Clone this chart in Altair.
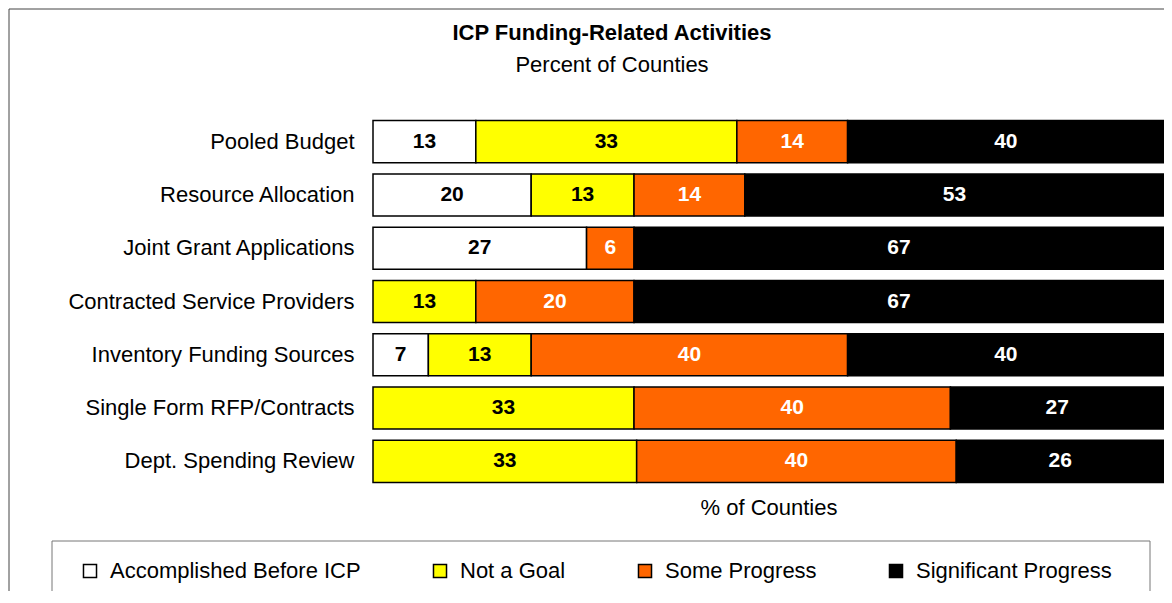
import altair as alt
import pandas as pd

categories = [
    "Pooled Budget",
    "Resource Allocation",
    "Joint Grant Applications",
    "Contracted Service Providers",
    "Inventory Funding Sources",
    "Single Form RFP/Contracts",
    "Dept. Spending Review",
]
series = ["Accomplished Before ICP", "Not a Goal", "Some Progress", "Significant Progress"]
accomplished = [13, 20, 27, 0, 7, 0, 0]
not_goal = [33, 13, 0, 13, 13, 33, 33]
some_progress = [14, 14, 6, 20, 40, 40, 40]
significant = [40, 53, 67, 67, 40, 27, 26]
colors = ["#FFFFFF", "#FFFF00", "#FF6600", "#000000"]
title_text = ["ICP Funding-Related Activities"]
subtitle_text = ["Percent of Counties"]
x_title = "% of Counties"

rows = []
for i, c in enumerate(categories):
    for j, (s, vals) in enumerate(zip(series, [accomplished, not_goal, some_progress, significant])):
        v = vals[i]
        if v > 0:
            rows.append({"cat": c, "series": s, "order": j, "value": v})
df = pd.DataFrame(rows)

FONT = "Liberation Sans"
W, H = 791, 373
PL, PT = 365, 107
PR = 1156 - PL - W
PB = 583 - PT - H

base = alt.Chart(df)

y_enc = alt.Y(
    "cat:N",
    sort=categories,
    scale=alt.Scale(paddingInner=0.21, paddingOuter=0.105),
    axis=alt.Axis(
        title=None, domain=False, ticks=False, labelFontSize=22, labelFont=FONT,
        labelColor="black", labelPadding=19, labelLimit=400,
    ),
)

xscale = alt.Scale(domain=[0, 1], nice=False)
x_axis = alt.Axis(
    title=x_title, labels=False, ticks=False, domain=False, grid=False,
    titleFontSize=22, titleFont=FONT, titleFontWeight="normal", titleColor="black",
    titlePadding=9,
)

bars = base.mark_bar(stroke="black", strokeWidth=1.5).encode(
    x=alt.X("value:Q", stack="normalize", scale=xscale, axis=x_axis),
    y=y_enc,
    color=alt.Color(
        "series:N", sort=series,
        scale=alt.Scale(domain=series, range=colors),
        legend=alt.Legend(
            title=None, orient="none", legendX=-294, legendY=445, direction="horizontal",
            symbolType="square", symbolSize=170, symbolStrokeColor="black",
            symbolStrokeWidth=1.5, symbolOpacity=1, labelFontSize=22, labelFont=FONT,
            labelColor="black", columnPadding=68, labelOffset=9, labelLimit=400,
        ),
    ),
    order=alt.Order("order:Q"),
)

labels = (
    base.transform_stack(
        stack="value", groupby=["cat"], as_=["x0", "x1"], offset="normalize",
        sort=[alt.SortField("order", order="ascending")],
    )
    .transform_calculate(mid="(datum.x0 + datum.x1) / 2")
    .mark_text(font=FONT, fontSize=21, fontWeight="bold")
    .encode(
        x=alt.X("mid:Q", scale=xscale, axis=x_axis),
        y=alt.Y("cat:N", sort=categories),
        text=alt.Text("value:Q"),
        color=alt.condition(
            "datum.series == 'Some Progress' || datum.series == 'Significant Progress'",
            alt.value("white"), alt.value("black"),
        ),
    )
)

frame_df = pd.DataFrame({"k": [0]})
frame = alt.Chart(frame_df).mark_rect(
    fill="white", fillOpacity=0, stroke="#444444", strokeWidth=1
).encode(x=alt.value(-364), x2=alt.value(830), y=alt.value(-106), y2=alt.value(520))

legend_frame = alt.Chart(frame_df).mark_rect(
    fill="white", fillOpacity=0, stroke="#777777", strokeWidth=1
).encode(x=alt.value(-321), x2=alt.value(777), y=alt.value(426), y2=alt.value(520))

title = alt.Chart(pd.DataFrame({"t": title_text})).mark_text(
    font=FONT, fontSize=22, fontWeight="bold", color="black", baseline="middle", align="center"
).encode(text="t:N", x=alt.value(239), y=alt.value(-82))

subtitle = alt.Chart(pd.DataFrame({"t": subtitle_text})).mark_text(
    font=FONT, fontSize=22, color="black", baseline="middle", align="center"
).encode(text="t:N", x=alt.value(239), y=alt.value(-50))

chart = (
    alt.layer(frame, legend_frame, title, subtitle, bars, labels)
    .properties(
        width=W, height=H,
        padding={"left": PL, "top": PT, "right": PR, "bottom": PB},
        autosize=alt.AutoSizeParams(type="none"),
    )
    .configure_view(strokeOpacity=0)
)

chart.save("out.html", embed_options={"renderer": "svg", "actions": False})
